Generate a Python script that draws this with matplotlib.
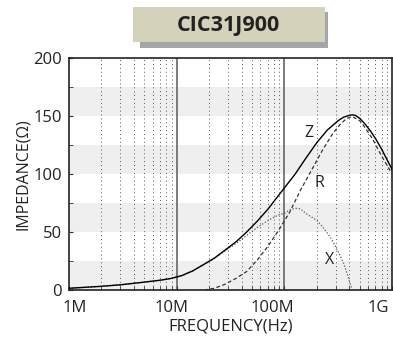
import numpy as np
import matplotlib.pyplot as plt
import matplotlib.transforms as mtransforms
from matplotlib.patches import Rectangle

plt.rcParams['font.family'] = ['Open Sans', 'DejaVu Sans']

# impedance curves (frequency in MHz, value in ohm)
z_freq = [1, 2, 3, 5, 7.1, 8.9, 11.2, 14.1, 17.8, 22.4, 28.2, 35.5, 44.7, 56.2, 70.8, 89.1, 100,
          126, 158, 200, 251, 282, 316, 355, 398, 427, 457, 501, 562, 631, 708, 794, 891, 1000]
z_val = [1.5, 3.2, 4.5, 6.8, 8.5, 10, 12.5, 16.5, 22, 27.5, 34.5, 41.5, 50, 59.5, 70, 82, 88,
         100, 113.5, 127, 138, 142, 146, 149, 150.5, 151, 150.5, 148, 143, 137, 130, 122, 113, 104]

r_freq = [18, 22.4, 28.2, 35.5, 44.7, 56.2, 70.8, 89.1, 112, 141, 178, 224, 282, 331, 380,
          427, 501, 562, 661, 794, 891, 1000]
r_val = [0, 1.5, 5, 10, 16, 26, 38, 52, 67, 86, 103, 120, 135, 143, 148,
         149.5, 146, 140, 130, 116, 108, 100]

x_freq = [1, 2, 3, 5, 7.1, 8.9, 11.2, 14.1, 17.8, 22.4, 28.2, 35.5, 44.7, 56.2, 70.8, 89.1, 100,
          112, 126, 141, 158, 178, 200, 224, 251, 282, 316, 355, 380, 407, 427]
x_val = [1.4, 3.1, 4.4, 6.7, 8.4, 9.9, 12.4, 16.4, 21.8, 27.2, 33.8, 40, 47, 54, 60, 65, 66,
         69, 70.5, 70, 66, 63, 60, 55, 49, 42, 33, 23, 15, 6, 0]

x_ticks = [1e6, 1e7, 1e8, 1e9]
x_labels = ['1M', '10M', '100M', '1G']
y_ticks = [0, 50, 100, 150, 200]

fig = plt.figure(figsize=(3.93, 3.43), dpi=100)
ax = fig.add_axes([0.1756, 0.1545, 0.822, 0.6764])

ax.set_xscale('log')
ax.set_xlim(1e6, 1e9)
ax.set_ylim(0, 200)

# light grey horizontal bands
for lo in [0, 50, 100, 150]:
    ax.axhspan(lo, lo + 25, color='#efefef', lw=0, zorder=0)

# vertical grid: dotted minor lines, solid decade lines
for dec in [1e6, 1e7, 1e8]:
    for m in range(2, 10):
        ax.axvline(dec * m, color='#555555', lw=0.7, ls=(0, (1, 3)), zorder=1)
for dec in [1e7, 1e8]:
    ax.axvline(dec, color='#666666', lw=1.2, zorder=1)

ax.plot(np.array(z_freq) * 1e6, z_val, color='black', lw=1.0, zorder=3)
ax.plot(np.array(r_freq) * 1e6, r_val, color='#333333', lw=0.9, ls=(0, (3, 2)), zorder=3)
ax.plot(np.array(x_freq) * 1e6, x_val, color='#555555', lw=0.9, ls=(0, (1, 1.5)), zorder=2)

ax.text(170e6, 135, 'Z', fontsize=11.5, ha='center', va='center', color='#222222')
ax.text(210e6, 92, 'R', fontsize=11.5, ha='center', va='center', color='#222222')
ax.text(264e6, 26, 'X', fontsize=11.5, ha='center', va='center', color='#222222')

ax.set_yticks(y_ticks)
ax.set_yticks([25, 75, 125, 175], minor=True)
ax.set_xticks(x_ticks)
ax.set_xticklabels(x_labels)
ax.tick_params(axis='both', which='both', direction='in', labelsize=12,
               color='#333333', labelcolor='#222222')
ax.tick_params(axis='both', which='both', length=3)
ax.tick_params(axis='x', pad=7)
ax.tick_params(axis='y', pad=5)

# nudge x tick labels like the original
shifts = [6, -5, -12, -14]
for lab, dx in zip(ax.get_xticklabels(), shifts):
    lab.set_transform(lab.get_transform() + mtransforms.ScaledTranslation(dx / 100, 0, fig.dpi_scale_trans))

for sp in ax.spines.values():
    sp.set_linewidth(1.2)
    sp.set_color('#222222')

ax.set_xlabel('FREQUENCY(Hz)', fontsize=12, labelpad=2, color='#222222')
ax.set_ylabel('IMPEDANCE(Ω)', fontsize=11.5, labelpad=2, color='#222222')

# title box with shadow
W, H = 393, 343
fig.patches.append(Rectangle((140 / W, 1 - 48 / H), 188 / W, 36 / H, transform=fig.transFigure,
                             color='#a6a6aa', lw=0, zorder=0))
fig.patches.append(Rectangle((133 / W, 1 - 42 / H), 192 / W, 35 / H, transform=fig.transFigure,
                             color='#d4d2bb', lw=0, zorder=1))
fig.text(228 / W, 1 - 25 / H, 'CIC31J900', fontsize=15.5, fontweight='bold',
         ha='center', va='center', color='#222222')

fig.savefig('out.png', dpi=100)
